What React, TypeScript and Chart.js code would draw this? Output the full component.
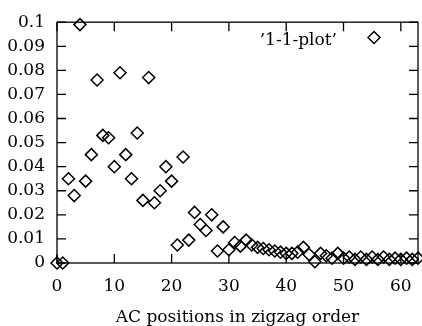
import React, { useEffect, useRef } from "react";
import { Chart, registerables } from "chart.js";

Chart.register(...registerables);

const positions: number[] = [
  0, 1, 2, 3, 4, 5, 6, 7, 8, 9, 10, 11, 12, 13, 14, 15, 16, 17, 18, 19, 20,
  21, 22, 23, 24, 25, 26, 27, 28, 29, 30, 31, 32, 33, 34, 35, 36, 37, 38, 39,
  40, 41, 42, 43, 44, 45, 46, 47, 48, 49, 50, 51, 52, 53, 54, 55, 56, 57, 58,
  59, 60, 61, 62, 63,
];

const values: number[] = [
  0, 0, 0.035, 0.028, 0.099, 0.034, 0.045, 0.076, 0.053, 0.052, 0.04, 0.079,
  0.045, 0.035, 0.054, 0.026, 0.077, 0.025, 0.03, 0.04, 0.034, 0.0075, 0.044,
  0.0095, 0.021, 0.016, 0.0135, 0.02, 0.005, 0.015, 0.0055, 0.0085, 0.007,
  0.0095, 0.0075, 0.0065, 0.006, 0.0055, 0.005, 0.0045, 0.004, 0.004, 0.0045,
  0.0065, 0.0035, 0.0005, 0.004, 0.003, 0.002, 0.004, 0.002, 0.0025, 0.0015,
  0.0025, 0.0015, 0.0025, 0.0015, 0.0025, 0.0015, 0.002, 0.0015, 0.002,
  0.0015, 0.002,
];

const xTicks: number[] = [0, 10, 20, 30, 40, 50, 60];
const yTicks: number[] = [0, 0.01, 0.02, 0.03, 0.04, 0.05, 0.06, 0.07, 0.08, 0.09, 0.1];
const seriesLabel = "\u20191-1-plot\u2019";
const xTitle = "AC positions in zigzag order";

const FONT = "'DejaVu Serif', serif";
const FS = 17;

const framePlugin = {
  id: "gnuframe",
  afterDraw(chart: any) {
    const { ctx, chartArea } = chart;
    const { left, right, top, bottom } = chartArea;
    const xs = chart.scales.x;
    const ys = chart.scales.y;
    ctx.save();
    ctx.strokeStyle = "#000";
    ctx.lineWidth = 1.3;
    ctx.strokeRect(left, top, right - left, bottom - top);
    const tl = 9;
    ctx.beginPath();
    xTicks.forEach((v) => {
      const px = xs.getPixelForValue(v);
      ctx.moveTo(px, bottom);
      ctx.lineTo(px, bottom - tl);
      ctx.moveTo(px, top);
      ctx.lineTo(px, top + tl);
    });
    yTicks.forEach((v) => {
      const py = ys.getPixelForValue(v);
      ctx.moveTo(left, py);
      ctx.lineTo(left + tl, py);
      ctx.moveTo(right, py);
      ctx.lineTo(right - tl, py);
    });
    ctx.stroke();

    // key
    ctx.fillStyle = "#000";
    ctx.font = `${FS}px ${FONT}`;
    ctx.textAlign = "right";
    ctx.textBaseline = "alphabetic";
    ctx.fillText(seriesLabel, 337, 45);
    const cx = 374;
    const cy = 37.5;
    const r = 6;
    ctx.beginPath();
    ctx.lineWidth = 1.5;
    ctx.moveTo(cx, cy - r);
    ctx.lineTo(cx + r, cy);
    ctx.lineTo(cx, cy + r);
    ctx.lineTo(cx - r, cy);
    ctx.closePath();
    ctx.stroke();
    ctx.restore();
  },
};

export default function App() {
  const ref = useRef<HTMLCanvasElement | null>(null);

  useEffect(() => {
    if (!ref.current) return;
    const data = positions.map((p, i) => ({ x: p, y: values[i] }));
    const chart = new Chart(ref.current, {
      type: "scatter",
      data: {
        datasets: [
          {
            label: seriesLabel,
            data,
            pointStyle: "rectRot",
            pointRadius: 6,
            pointHoverRadius: 6,
            pointBorderWidth: 1.5,
            borderColor: "#000",
            backgroundColor: "rgba(0,0,0,0)",
            clip: false,
          } as any,
        ],
      },
      options: {
        responsive: false,
        animation: false,
        events: [],
        layout: { autoPadding: false, padding: { top: 17, right: 4, left: 0, bottom: 0 } },
        plugins: {
          legend: { display: false },
          tooltip: { enabled: false },
        },
        scales: {
          x: {
            type: "linear",
            min: 0,
            max: 63,
            afterFit: (s: any) => {
              s.height = 63;
              s.paddingLeft = 0;
              s.paddingRight = 0;
            },
            afterBuildTicks: (s: any) => {
              s.ticks = xTicks.map((v) => ({ value: v }));
            },
            grid: { display: false, drawTicks: false },
            border: { display: false },
            ticks: {
              color: "#000",
              font: { family: FONT, size: FS },
              padding: 13,
              maxRotation: 0,
              autoSkip: false,
            },
            title: {
              display: true,
              text: xTitle,
              color: "#000",
              font: { family: FONT, size: FS },
              padding: { top: 0, bottom: -2 },
            },
          },
          y: {
            type: "linear",
            min: 0,
            max: 0.1,
            afterFit: (s: any) => {
              s.width = 57;
            },
            afterBuildTicks: (s: any) => {
              s.ticks = yTicks.map((v) => ({ value: v }));
            },
            grid: { display: false, drawTicks: false },
            border: { display: false },
            ticks: {
              color: "#000",
              font: { family: FONT, size: FS },
              padding: 12,
              autoSkip: false,
              callback: (v: any) => String(Math.round(Number(v) * 100) / 100),
            },
          },
        },
      },
      plugins: [framePlugin],
    });
    return () => chart.destroy();
  }, []);

  return (
    <div style={{ position: "fixed", left: 0, top: 0, width: 422, height: 326, background: "#fff" }}>
      <canvas ref={ref} width={422} height={326} style={{ width: 422, height: 326 }} />
    </div>
  );
}
